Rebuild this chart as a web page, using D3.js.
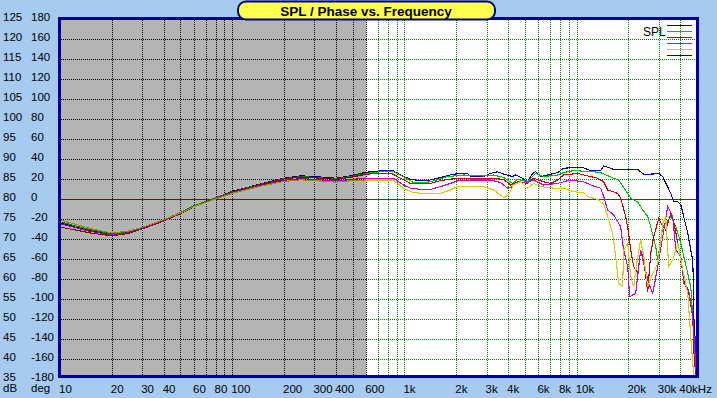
<!DOCTYPE html>
<html>
<head>
<meta charset="utf-8">
<script src="https://cdn.jsdelivr.net/npm/d3@7/dist/d3.min.js"></script>
<style>
  body { margin: 0; background: #a6caf0; }
  svg { display: block; font-family: "Liberation Sans", Arial, sans-serif; }
</style>
</head>
<body>
<svg id="chart" width="717" height="398"></svg>
<script>
// SPL curves, [Hz, dB]
var blueSpl = [[10,74.0],[15,72.0],[20,71.1],[25,71.7],[30,72.7],[40,74.7],[50,76.5],[60,78.3],[80,80.3],[100,81.9],[150,83.9],[200,85.2],[250,85.8],[300,85.6],[400,85.2],[500,85.9],[600,86.7],
  [720,87.0],[862,87.0],[948,86.0],[1084,84.9],[1239,84.6],[1360,84.6],[1556,85.2],[1927,86.2],[2117,86.4],[2325,86.4],[2421,85.6],[2880,85.6],[3162,86.4],[3473,86.8],[3765,86.25],[4245,85.6],[4420,86.0],[4850,85.2],[5186,84.3],[5546,86.4],[5777,86.8],[6177,85.6],[6780,86.0],[7762,86.6],[8400,87.7],[9220,87.8],[10980,87.8],[12060,87.1],[13800,87.1],[14360,88.3],[16410,87.4],[22630,87.4],[24520,86.2],[28050,86.25],[29990,86.4],[31620,85.6],[35210,81.4],[36670,79.3],[38700,79.3],[40270,78.5],[41370,76.5],[44160,71.5],[46000,67.25],[47250,64.75],[47600,59.0],[47900,50.5],[49230,42.25],[50000,35.5]];

var greenSpl = [[10,74.3],[15,72.3],[20,71.3],[25,71.8],[30,72.8],[40,74.8],[50,76.6],[60,78.3],[80,80.3],[100,81.8],[150,83.8],[200,85.1],[250,85.6],[300,85.4],[400,85.0],[500,85.7],[600,86.4],
  [720,86.8],[862,86.8],[986,85.6],[1128,84.1],[1289,84.1],[1416,84.3],[1778,85.6],[2205,86.0],[2880,85.75],[3290,86.0],[3765,85.4],[4245,83.9],[4540,84.9],[5186,84.3],[5777,86.4],[6431,85.6],[7762,86.0],[8400,86.6],[9610,87.1],[12550,86.8],[13800,86.6],[16410,85.2],[17540,84.75],[19800,81.4],[20600,80.2],[22630,79.3],[24190,77.25],[25870,75.6],[26930,73.1],[28790,68.1],[29580,64.75],[31620,73.1],[35210,75.6],[37670,73.1],[40270,69.0],[41940,65.6],[44160,61.5],[46000,58.1],[47250,50.6],[47900,42.25],[49230,35.5]];

var redSpl = [[10,73.0],[15,71.5],[20,70.8],[25,71.4],[30,72.5],[40,74.5],[50,76.3],[60,78.1],[80,80.1],[100,81.7],[150,83.7],[200,85.0],[250,85.5],[300,85.3],[400,84.9],[500,85.5],[600,86.2],
  [720,86.4],[840,86.4],[948,85.2],[1084,83.9],[1239,83.9],[1416,83.9],[1619,84.6],[2032,85.2],[3162,85.2],[3765,84.9],[4131,83.5],[4540,84.3],[5186,83.9],[5623,85.2],[6431,84.3],[7063,83.9],[7762,84.75],[8400,86.0],[10140,86.4],[12060,85.6],[13250,85.2],[13800,84.75],[14360,84.3],[15140,82.25],[16410,81.8],[17300,81.4],[18020,80.2],[19280,75.6],[20050,71.4],[20600,67.25],[21450,63.1],[22630,61.4],[23550,67.25],[24520,64.75],[25870,56.8],[26930,66.4],[28050,70.6],[29990,75.2],[31620,73.1],[32900,72.25],[35210,76.4],[36670,74.3],[38700,68.9],[40270,64.75],[41940,59.75],[44770,56.4],[47250,50.6],[47900,42.25],[49230,35.5]];

var magentaSpl = [[10,73.8],[15,71.9],[20,71.0],[25,71.6],[30,72.6],[40,74.6],[50,76.4],[60,78.1],[80,80.1],[100,81.6],[150,83.5],[200,84.7],[250,85.1],[300,84.9],[400,84.5],[500,84.9],[600,85.2],
  [720,85.2],[862,85.2],[986,83.5],[1084,82.7],[1239,82.4],[1416,82.4],[1619,83.1],[2032,84.5],[2421,84.75],[3162,84.75],[3617,84.1],[3970,82.7],[4245,83.1],[4540,84.3],[5186,84.1],[5623,84.75],[6431,83.5],[7762,83.9],[9220,84.75],[10980,84.3],[12550,83.25],[13800,82.7],[14360,80.6],[15140,77.25],[16410,76.0],[18020,73.1],[18750,67.25],[19800,63.1],[20320,55.6],[22020,56.4],[23550,67.25],[24520,63.9],[26230,58.9],[27670,56.4],[29580,63.1],[31620,70.6],[33800,78.1],[36170,75.6],[37670,67.25],[40270,65.6],[41940,58.9],[44770,57.25],[47250,50.6],[48560,42.25],[49230,37.25]];

var yellowSpl = [[10,74.8],[15,72.6],[20,71.5],[25,72.0],[30,72.9],[40,74.8],[50,76.5],[60,78.1],[80,80.0],[100,81.4],[150,83.3],[200,84.4],[250,84.8],[300,84.6],[400,84.2],[500,84.6],[600,84.75],
  [720,84.75],[862,84.75],[986,82.7],[1128,81.6],[1289,81.4],[1619,81.4],[1850,82.25],[2032,83.1],[2880,83.1],[3290,82.25],[3617,81.0],[3765,80.4],[4025,81.0],[4303,83.5],[4725,84.3],[5186,82.7],[5623,83.9],[6177,83.1],[7350,82.7],[8400,82.7],[9610,81.8],[10980,81.6],[11590,80.6],[13250,79.9],[14360,78.8],[15140,75.6],[16190,71.4],[16870,65.6],[17540,58.9],[18500,58.1],[18750,67.25],[19800,68.9],[20600,60.6],[21450,58.1],[22630,65.6],[23550,69.75],[24520,65.6],[25870,58.1],[27670,61.4],[29580,63.9],[31620,73.9],[32900,75.6],[34270,63.1],[36170,64.75],[38700,68.9],[41370,62.25],[44160,56.4],[46000,45.6],[47900,35.5]];

var series = [
  { name: "blue", data: blueSpl, color: "#0000b0" },
  { name: "green", data: greenSpl, color: "#00c000" },
  { name: "red", data: redSpl, color: "#d00000" },
  { name: "magenta", data: magentaSpl, color: "#d000d0" },
  { name: "yellow", data: yellowSpl, color: "#d0d000" }
];
var legendColors = ["#0000b0", "#00c000", "#d00000", "#d000d0", "#d0d000", "#0000b0"];

var dbTicks = d3.range(35, 126, 5);
var freqLabels = [10, 20, 30, 40, 60, 80, 100, 200, 300, 400, 600, 1000, 2000, 3000, 4000, 6000, 8000, 10000, 20000, 30000, 40000];
var grayEnd = 600;

var svg = d3.select("#chart");

var x = d3.scaleLog().domain([10, 50000]).range([60, 697]);
var y = d3.scaleLinear().domain([35, 125]).range([379, 19]);

// plot interior (window.top is reserved, so prefixed names)
var pLeft = 61, pRight = 696, pTop = 20, pBottom = 375;

svg.append("rect")
  .attr("x", pLeft).attr("y", pTop)
  .attr("width", pRight - pLeft).attr("height", pBottom - pTop)
  .attr("fill", "#ffffff");

svg.append("clipPath").attr("id", "clip")
  .append("rect")
  .attr("x", pLeft).attr("y", pTop)
  .attr("width", pRight - pLeft).attr("height", pBottom - pTop);

var plot = svg.append("g").attr("clip-path", "url(#clip)");

// vertical grid
var gridFreqs = [];
[10, 100, 1000, 10000].forEach(function(d) {
  for (var m = 1; m < 10; m++) {
    var v = d * m;
    if (v > 10 && v < 50000) gridFreqs.push(v);
  }
});

plot.selectAll(".vgrid")
  .data(gridFreqs)
  .enter()
  .append("line")
  .attr("class", "vgrid")
  .attr("x1", function(d) { return Math.round(x(d)) + 0.5; })
  .attr("x2", function(d) { return Math.round(x(d)) + 0.5; })
  .attr("y1", pTop)
  .attr("y2", pBottom)
  .attr("stroke", function(d) { return d <= grayEnd ? "#000000" : "#008000"; })
  .attr("stroke-dasharray", "1,1")
  .attr("shape-rendering", "crispEdges");

// horizontal grid, black over the gray band and green after it
var xSplit = Math.round(x(grayEnd));
dbTicks.filter(function(d) { return d > 35 && d < 125 && d != 80; }).forEach(function(d) {
  var yy = Math.round(y(d)) + 0.5;
  plot.append("line")
    .attr("x1", pLeft).attr("x2", xSplit)
    .attr("y1", yy).attr("y2", yy)
    .attr("stroke", "#000000")
    .attr("stroke-dasharray", "1,1")
    .attr("shape-rendering", "crispEdges");
  plot.append("line")
    .attr("x1", xSplit).attr("x2", pRight)
    .attr("y1", yy).attr("y2", yy)
    .attr("stroke", "#008000")
    .attr("stroke-dasharray", "1,1")
    .attr("shape-rendering", "crispEdges");
});

// 0 deg line
plot.append("line")
  .attr("x1", pLeft).attr("x2", pRight)
  .attr("y1", Math.round(y(80)) + 0.5).attr("y2", Math.round(y(80)) + 0.5)
  .attr("stroke", "#c00000")
  .attr("shape-rendering", "crispEdges");

// curves
var line = d3.line()
  .x(function(d) { return x(d[0]); })
  .y(function(d) { return y(d[1]); });

plot.selectAll(".curve")
  .data(series)
  .enter()
  .append("path")
  .attr("class", "curve")
  .attr("d", function(d) { return line(d.data); })
  .attr("fill", "none")
  .attr("stroke", function(d) { return d.color; })
  .attr("stroke-width", 1.1)
  .attr("shape-rendering", "crispEdges");

// gray band multiplied over the low end
plot.append("rect")
  .attr("x", pLeft).attr("y", pTop)
  .attr("width", xSplit - pLeft).attr("height", pBottom - pTop)
  .attr("fill", "#b4b4b4")
  .style("mix-blend-mode", "multiply");

// frame
svg.append("rect")
  .attr("x", 59.5).attr("y", 18.5)
  .attr("width", 638).attr("height", 358)
  .attr("fill", "none")
  .attr("stroke", "#0000a0")
  .attr("stroke-width", 3);

// legend
svg.append("text")
  .attr("x", 643).attr("y", 36)
  .attr("font-size", 12)
  .attr("fill", "#000")
  .text("SPL");

svg.selectAll(".leg")
  .data(legendColors)
  .enter()
  .append("line")
  .attr("class", "leg")
  .attr("x1", 667).attr("x2", 692)
  .attr("y1", function(d, i) { return 25.5 + i * 6; })
  .attr("y2", function(d, i) { return 25.5 + i * 6; })
  .attr("stroke", function(d) { return d; })
  .attr("stroke-width", 1.5)
  .attr("shape-rendering", "crispEdges");

// y labels
svg.selectAll(".dbLab")
  .data(dbTicks)
  .enter()
  .append("text")
  .attr("class", "dbLab")
  .attr("x", 3)
  .attr("y", function(d) { return y(d) + 1.5; })
  .attr("font-size", 11.5)
  .text(function(d) { return d; });

svg.selectAll(".degLab")
  .data(dbTicks)
  .enter()
  .append("text")
  .attr("class", "degLab")
  .attr("x", 31)
  .attr("y", function(d) { return y(d) + 1.5; })
  .attr("font-size", 11.5)
  .text(function(d) { return (d - 80) * 4; });

svg.append("text").attr("x", 3).attr("y", 392).attr("font-size", 11.5).text("dB");
svg.append("text").attr("x", 31).attr("y", 392).attr("font-size", 11.5).text("deg");

// x labels
svg.selectAll(".fLab")
  .data(freqLabels)
  .enter()
  .append("text")
  .attr("class", "fLab")
  .attr("x", function(d) { return x(d) - 1; })
  .attr("y", 392.5)
  .attr("font-size", 11.5)
  .text(function(d) {
    if (d == 40000) return "40kHz";
    return d >= 1000 ? (d / 1000) + "k" : d;
  });

// title
svg.append("rect")
  .attr("x", 238).attr("y", 1.5)
  .attr("width", 257).attr("height", 18)
  .attr("rx", 8).attr("ry", 8)
  .attr("fill", "#ffff50")
  .attr("stroke", "#000080")
  .attr("stroke-width", 2);

svg.append("text")
  .attr("x", 366).attr("y", 15.5)
  .attr("text-anchor", "middle")
  .attr("font-size", 13.5)
  .attr("font-weight", "bold")
  .text("SPL / Phase vs. Frequency");
</script>
</body>
</html>
